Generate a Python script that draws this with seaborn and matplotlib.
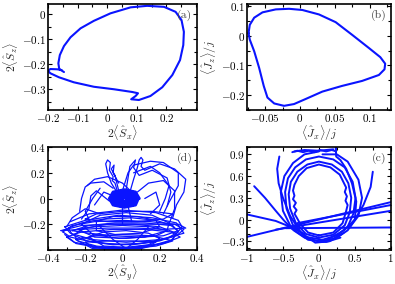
import numpy as np
import pandas as pd
import matplotlib
matplotlib.use('Agg')
import matplotlib.pyplot as plt
from matplotlib.ticker import MultipleLocator
import seaborn as sns

sns.set_style('ticks')
plt.rcParams['font.family'] = ['cmr10', 'DejaVu Serif']
plt.rcParams['mathtext.fontset'] = 'cm'
plt.rcParams['axes.formatter.use_mathtext'] = True
plt.rcParams['axes.unicode_minus'] = True

# ---- panel (a): 2<Sx> vs 2<Sz>
a_x = [-0.146, -0.162, -0.165, -0.160, -0.146, -0.124, -0.090, -0.045, 0.011, 0.079, 0.135, 0.192,
       0.231, 0.251, 0.259, 0.257, 0.246, 0.220, 0.186, 0.146, 0.107, 0.081, 0.096, 0.104, 0.085,
       0.023, -0.045, -0.113, -0.163, -0.192, -0.200, -0.192, -0.169, -0.154]
a_y = [-0.232, -0.220, -0.197, -0.164, -0.128, -0.093, -0.057, -0.027, 0.003, 0.027, 0.033, 0.029,
       0.009, -0.024, -0.071, -0.124, -0.184, -0.244, -0.293, -0.328, -0.344, -0.341, -0.328, -0.317, -0.312,
       -0.301, -0.291, -0.273, -0.253, -0.237, -0.227, -0.220, -0.221, -0.224]

# ---- panel (b): <Jx>/j vs <Jz>/j
b_x = [-0.0738, -0.072, -0.0657, -0.0538, -0.0348, -0.0157, 0.0033, 0.0271, 0.051, 0.0748, 0.0986,
       0.115, 0.122, 0.121, 0.113, 0.089, 0.060, 0.032, 0.008, -0.0086, -0.0229, -0.037, -0.0467,
       -0.052, -0.0586, -0.0657, -0.072, -0.0738]
b_y = [0.0089, 0.037, 0.061, 0.079, 0.089, 0.091, 0.087, 0.072, 0.046, 0.003, -0.041,
       -0.072, -0.094, -0.113, -0.132, -0.152, -0.169, -0.188, -0.213, -0.230, -0.236, -0.228, -0.208,
       -0.169, -0.108, -0.052, -0.013, 0.0089]

# ---- panel (d): 2<Sy> vs 2<Sz>, chaotic trajectory pieces
d_paths = [
    # lower dense mass
    [(-0.32, -0.26), (-0.27, -0.21), (-0.15, -0.18), (0.0, -0.17), (0.15, -0.18), (0.28, -0.20), (0.33, -0.24),
     (0.29, -0.29), (0.16, -0.34), (0.0, -0.36), (-0.16, -0.34), (-0.28, -0.30), (-0.32, -0.26)],
    [(-0.29, -0.23), (-0.22, -0.19), (-0.10, -0.16), (0.05, -0.15), (0.18, -0.17), (0.27, -0.21), (0.30, -0.26),
     (0.24, -0.31), (0.10, -0.35), (-0.05, -0.36), (-0.19, -0.33), (-0.27, -0.28), (-0.29, -0.23)],
    [(-0.26, -0.28), (-0.20, -0.23), (-0.08, -0.20), (0.06, -0.20), (0.20, -0.22), (0.29, -0.27), (0.27, -0.32),
     (0.15, -0.37), (0.0, -0.39), (-0.14, -0.37), (-0.24, -0.33), (-0.26, -0.28)],
    [(-0.22, -0.20), (-0.12, -0.13), (0.02, -0.11), (0.16, -0.13), (0.25, -0.19), (0.24, -0.25), (0.12, -0.30),
     (-0.02, -0.31), (-0.16, -0.28), (-0.22, -0.20)],
    [(-0.18, -0.30), (-0.10, -0.26), (0.02, -0.25), (0.14, -0.27), (0.20, -0.31), (0.14, -0.36), (0.02, -0.38),
     (-0.10, -0.37), (-0.18, -0.30)],
    [(-0.30, -0.30), (-0.22, -0.26), (-0.05, -0.24), (0.12, -0.24), (0.26, -0.26), (0.31, -0.30), (0.22, -0.35),
     (0.05, -0.38), (-0.12, -0.38), (-0.26, -0.34), (-0.30, -0.30)],
    [(-0.24, -0.24), (-0.15, -0.22), (0.0, -0.21), (0.15, -0.22), (0.24, -0.25), (0.18, -0.29), (0.02, -0.31),
     (-0.15, -0.30), (-0.24, -0.24)],
    [(-0.14, -0.18), (-0.05, -0.14), (0.08, -0.14), (0.18, -0.17), (0.20, -0.22), (0.10, -0.27), (-0.04, -0.28),
     (-0.14, -0.25), (-0.14, -0.18)],
    [(-0.28, -0.18), (-0.18, -0.12), (0.0, -0.09), (0.18, -0.11), (0.30, -0.17), (0.32, -0.22), (0.26, -0.33),
     (0.1, -0.39), (-0.1, -0.39), (-0.25, -0.35), (-0.31, -0.28)],
    [(-0.27, -0.25), (-0.18, -0.27), (-0.05, -0.29), (0.1, -0.30), (0.22, -0.29), (0.3, -0.25), (0.26, -0.21),
     (0.12, -0.19), (-0.04, -0.19), (-0.18, -0.21), (-0.27, -0.25)],
    [(-0.2, -0.34), (-0.08, -0.33), (0.06, -0.33), (0.18, -0.34), (0.12, -0.38), (-0.04, -0.39), (-0.16, -0.38),
     (-0.2, -0.34)],
    [(-0.31, -0.22), (-0.2, -0.17), (-0.02, -0.13), (0.16, -0.15), (0.29, -0.19), (0.33, -0.27), (0.2, -0.32),
     (0.02, -0.34), (-0.16, -0.32), (-0.28, -0.27), (-0.31, -0.22)],
    [(-0.25, -0.32), (-0.14, -0.29), (0.0, -0.28), (0.16, -0.29), (0.27, -0.33), (0.18, -0.37), (0.0, -0.395),
     (-0.16, -0.39), (-0.25, -0.32)],
    [(-0.2, -0.16), (-0.08, -0.18), (0.08, -0.18), (0.22, -0.16), (0.27, -0.12), (0.16, -0.1), (0.0, -0.1),
     (-0.14, -0.12), (-0.2, -0.16)],
    [(-0.33, -0.25), (-0.22, -0.24), (-0.08, -0.23), (0.08, -0.23), (0.22, -0.24), (0.34, -0.23), (0.3, -0.2),
     (0.14, -0.2), (-0.06, -0.2), (-0.22, -0.21), (-0.33, -0.25)],
    [(-0.12, -0.22), (-0.05, -0.32), (0.02, -0.39), (0.08, -0.32), (0.14, -0.22)],
    [(-0.22, -0.3), (-0.1, -0.35), (0.05, -0.36), (0.2, -0.33), (0.28, -0.29)],
    # loops above
    [(-0.03, 0.05), (-0.06, 0.12), (-0.08, 0.20), (-0.09, 0.27), (-0.08, 0.30), (-0.065, 0.28), (-0.07, 0.22),
     (-0.05, 0.17), (-0.055, 0.14), (-0.04, 0.12), (-0.03, 0.07)],
    [(0.04, 0.05), (0.06, 0.15), (0.08, 0.24), (0.09, 0.30), (0.10, 0.32), (0.11, 0.30), (0.10, 0.25),
     (0.12, 0.22), (0.20, 0.27), (0.28, 0.23), (0.34, 0.15), (0.33, 0.05), (0.29, -0.05), (0.27, -0.15)],
    [(0.0, 0.06), (0.03, 0.20), (0.06, 0.26), (0.15, 0.29), (0.22, 0.28), (0.30, 0.20), (0.30, 0.10),
     (0.25, -0.03), (0.22, -0.12)],
    [(-0.19, 0.10), (-0.15, 0.15), (-0.08, 0.17), (0.0, 0.12), (0.05, 0.05)],
    [(-0.23, -0.10), (-0.22, 0.0), (-0.20, 0.09), (-0.17, 0.12), (-0.10, 0.13), (-0.05, 0.08)],
    [(0.06, 0.20), (0.15, 0.25), (0.20, 0.20), (0.25, 0.10), (0.23, 0.0), (0.20, -0.10)],
    [(-0.15, -0.05), (-0.10, 0.05), (-0.05, 0.02)],
    [(0.12, 0.0), (0.18, 0.05), (0.20, -0.05), (0.15, -0.12)],
    [(0.0, -0.07), (0.0, -0.20)],
    [(0.03, -0.06), (0.05, -0.18)],
    [(-0.12, -0.12), (-0.20, -0.08), (-0.27, -0.15), (-0.30, -0.22)],
    [(-0.12, 0.08), (-0.16, 0.0), (-0.2, -0.1), (-0.18, -0.16)],
    [(0.02, 0.07), (0.04, 0.25), (0.07, 0.3), (0.06, 0.24), (0.09, 0.18), (0.16, 0.22), (0.24, 0.16),
     (0.26, 0.05), (0.24, -0.06)],
    [(-0.02, 0.06), (-0.04, 0.18), (-0.06, 0.23), (-0.045, 0.26), (-0.05, 0.2), (-0.02, 0.12)],
    [(0.08, 0.05), (0.14, 0.12), (0.22, 0.14), (0.28, 0.06), (0.28, -0.08), (0.25, -0.2)],
    [(-0.07, -0.02), (-0.14, 0.06), (-0.17, 0.02), (-0.18, -0.08), (-0.22, -0.16)],
]

# central blob of (d), wound tightly
d_blob_x = [0.09, 0.07, 0.01, -0.05, -0.07, -0.05, 0.01, 0.07, 0.085, 0.065, 0.01, -0.045, -0.063, -0.045,
            0.01, 0.065, 0.075, 0.055, 0.01, -0.038, -0.055, -0.038, 0.01, 0.055, 0.065, 0.048, 0.01,
            -0.03, -0.045, -0.03, 0.01, 0.048, 0.052, 0.038, 0.01, -0.018, -0.032, -0.018, 0.01, 0.036,
            0.04, 0.028, 0.01, -0.008, -0.02, -0.008, 0.01, 0.026, 0.022, 0.01, 0.0]
d_blob_y = [0.0, 0.05, 0.068, 0.05, 0.0, -0.05, -0.068, -0.05, 0.0, 0.045, 0.062, 0.045, 0.0, -0.046,
            -0.062, -0.045, 0.0, 0.038, 0.054, 0.038, 0.0, -0.04, -0.054, -0.038, 0.0, 0.03, 0.045,
            0.03, 0.0, -0.032, -0.045, -0.03, 0.0, 0.022, 0.034, 0.022, 0.0, -0.022, -0.034, -0.022,
            0.0, 0.014, 0.022, 0.014, 0.0, -0.014, -0.022, -0.014, 0.0, 0.008, 0.0]

# ---- panel (c): <Jx>/j vs <Jz>/j
c_paths = [
    # inner wiggly loops
    [(0.0, -0.22), (-0.15, -0.18), (-0.26, -0.06), (-0.31, 0.03), (-0.34, 0.08), (-0.31, 0.13), (-0.35, 0.18),
     (-0.32, 0.23), (-0.36, 0.28), (-0.34, 0.33), (-0.36, 0.40), (-0.34, 0.48), (-0.28, 0.60), (-0.17, 0.71),
     (0.0, 0.76), (0.16, 0.72), (0.29, 0.62), (0.35, 0.50), (0.38, 0.44), (0.36, 0.38), (0.39, 0.32),
     (0.37, 0.26), (0.40, 0.20), (0.38, 0.12), (0.33, -0.05), (0.20, -0.18), (0.0, -0.22)],
    [(0.0, -0.25), (-0.18, -0.2), (-0.32, -0.05), (-0.4, 0.15), (-0.42, 0.35), (-0.39, 0.52), (-0.3, 0.66),
     (-0.16, 0.76), (0.0, 0.80), (0.18, 0.76), (0.32, 0.66), (0.41, 0.50), (0.45, 0.30), (0.43, 0.10),
     (0.36, -0.08), (0.2, -0.21), (0.0, -0.25)],
    [(0.05, -0.28), (-0.18, -0.24), (-0.36, -0.08), (-0.45, 0.15), (-0.47, 0.38), (-0.43, 0.57), (-0.33, 0.72),
     (-0.18, 0.83), (0.0, 0.87), (0.2, 0.83), (0.36, 0.72), (0.47, 0.52), (0.51, 0.30), (0.48, 0.08),
     (0.40, -0.1), (0.25, -0.22), (0.05, -0.28)],
    [(0.3, -0.25), (0.1, -0.31), (-0.15, -0.28), (-0.38, -0.12), (-0.5, 0.12), (-0.53, 0.38), (-0.48, 0.6),
     (-0.36, 0.78), (-0.2, 0.9), (0.0, 0.94)],
    # top jagged line with spike
    [(-0.37, 0.93), (-0.3, 0.95), (-0.22, 0.93), (-0.14, 0.95), (-0.06, 0.93), (0.02, 0.96), (0.1, 0.94),
     (0.18, 0.96), (0.24, 0.94), (0.235, 1.0), (0.24, 0.87), (0.3, 0.82), (0.38, 0.7), (0.46, 0.5),
     (0.52, 0.25), (0.5, 0.0), (0.4, -0.15), (0.25, -0.25), (0.05, -0.31)],
    [(-0.34, 0.94), (-0.2, 0.96), (0.0, 0.95), (0.2, 0.97)],
    # long arcs
    [(-0.90, 0.46), (-0.75, 0.30), (-0.60, 0.12), (-0.48, -0.02), (-0.35, -0.15), (-0.20, -0.25), (0.0, -0.30),
     (0.20, -0.27), (0.35, -0.18)],
    [(-0.55, 0.87), (-0.58, 0.70), (-0.56, 0.50), (-0.50, 0.30), (-0.40, 0.05), (-0.25, -0.18), (-0.05, -0.32),
     (0.15, -0.30), (0.32, -0.20)],
    [(0.75, 0.66), (0.72, 0.45), (0.62, 0.20), (0.50, 0.0), (0.35, -0.15), (0.15, -0.26)],
    [(0.05, 0.90), (0.25, 0.90), (0.40, 0.80), (0.55, 0.55), (0.6, 0.3), (0.55, 0.05), (0.42, -0.12)],
    # straight crossings
    [(-1.0, -0.24), (1.0, 0.24)],
    [(-1.0, 0.07), (-0.6, -0.02), (-0.4, -0.10), (-0.2, -0.20)],
    [(-0.6, -0.14), (1.0, 0.12)],
    [(-0.46, -0.12), (1.0, -0.11)],
    [(-0.3, -0.05), (1.0, 0.20)],
]


def paths_frame(paths):
    rows = []
    for k, p in enumerate(paths):
        for i, (x, y) in enumerate(p):
            rows.append((k, i, x, y))
    return pd.DataFrame(rows, columns=['seg', 'i', 'x', 'y'])


def style_axes(ax, xlabel, ylabel, tag):
    for s in ax.spines.values():
        s.set_linewidth(1.2)
        s.set_color('black')
    ax.tick_params(which='both', direction='in', top=True, right=True, labelsize=8,
                   width=0.8, colors='black', pad=1.5)
    ax.tick_params(which='major', length=3)
    ax.tick_params(which='minor', length=2)
    ax.set_xlabel(xlabel, fontsize=8.5, labelpad=-0.5)
    ax.set_ylabel(ylabel, fontsize=8.5, labelpad=1)
    ax.text(0.97, 0.95, tag, transform=ax.transAxes, ha='right', va='top', fontsize=8.5, color='#444444')


fig = plt.figure(figsize=(3.95, 2.84), dpi=100)
ax_a = fig.add_axes([0.1215, 0.6127, 0.377, 0.372])
ax_b = fig.add_axes([0.6253, 0.6127, 0.364, 0.372])
ax_d = fig.add_axes([0.1215, 0.1200, 0.377, 0.3620])
ax_c = fig.add_axes([0.6253, 0.1200, 0.364, 0.3620])

blue = '#0a14ff'

sns.lineplot(x=a_x, y=a_y, sort=False, estimator=None, color=blue, lw=1.5, ax=ax_a)
ax_a.set_xlim(-0.2, 0.303)
ax_a.set_ylim(-0.384, 0.039)
ax_a.set_xticks([-0.2, -0.1, 0, 0.1, 0.2], [r'$-0.2$', r'$-0.1$', r'$0$', r'$0.1$', r'$0.2$'])
ax_a.set_yticks([-0.3, -0.2, -0.1, 0], [r'$-0.3$', r'$-0.2$', r'$-0.1$', r'$0$'])
ax_a.xaxis.set_minor_locator(MultipleLocator(0.05))
ax_a.yaxis.set_minor_locator(MultipleLocator(0.05))
style_axes(ax_a, r'$2\langle\hat{S}_x\rangle$', r'$2\langle\hat{S}_z\rangle$', '(a)')

sns.lineplot(x=b_x, y=b_y, sort=False, estimator=None, color=blue, lw=1.5, ax=ax_b)
ax_b.set_xlim(-0.076, 0.13)
ax_b.set_ylim(-0.25, 0.106)
ax_b.set_xticks([-0.05, 0, 0.05, 0.1], [r'$-0.05$', r'$0$', r'$0.05$', r'$0.1$'])
ax_b.set_yticks([-0.2, -0.1, 0, 0.1], [r'$-0.2$', r'$-0.1$', r'$0$', r'$0.1$'])
ax_b.xaxis.set_minor_locator(MultipleLocator(0.025))
ax_b.yaxis.set_minor_locator(MultipleLocator(0.05))
style_axes(ax_b, r'$\langle\hat{J}_x\rangle/j$', r'$\langle\hat{J}_z\rangle/j$', '(b)')

df_d = paths_frame(d_paths)
sns.lineplot(data=df_d, x='x', y='y', units='seg', sort=False, estimator=None,
             color=blue, lw=0.9, ax=ax_d)
sns.lineplot(x=d_blob_x, y=d_blob_y, sort=False, estimator=None, color=blue, lw=2.2, ax=ax_d)
ax_d.set_xlim(-0.4, 0.4)
ax_d.set_ylim(-0.4, 0.4)
ax_d.set_xticks([-0.4, -0.2, 0, 0.2, 0.4], [r'$-0.4$', r'$-0.2$', r'$0$', r'$0.2$', r'$0.4$'])
ax_d.set_yticks([-0.2, 0, 0.2, 0.4], [r'$-0.2$', r'$0$', r'$0.2$', r'$0.4$'])
ax_d.xaxis.set_minor_locator(MultipleLocator(0.1))
ax_d.yaxis.set_minor_locator(MultipleLocator(0.1))
style_axes(ax_d, r'$2\langle\hat{S}_y\rangle$', r'$2\langle\hat{S}_z\rangle$', '(d)')

df_c = paths_frame(c_paths)
sns.lineplot(data=df_c, x='x', y='y', units='seg', sort=False, estimator=None,
             color=blue, lw=1.4, ax=ax_c)
ax_c.set_xlim(-1, 1)
ax_c.set_ylim(-0.42, 1.0)
ax_c.set_xticks([-1, -0.5, 0, 0.5, 1], [r'$-1$', r'$-0.5$', r'$0$', r'$0.5$', r'$1$'])
ax_c.set_yticks([-0.3, 0, 0.3, 0.6, 0.9], [r'$-0.3$', r'$0$', r'$0.3$', r'$0.6$', r'$0.9$'])
ax_c.xaxis.set_minor_locator(MultipleLocator(0.25))
ax_c.yaxis.set_minor_locator(MultipleLocator(0.1))
style_axes(ax_c, r'$\langle\hat{J}_x\rangle/j$', r'$\langle\hat{J}_z\rangle/j$', '(c)')

fig.savefig('out.png', dpi=100)
